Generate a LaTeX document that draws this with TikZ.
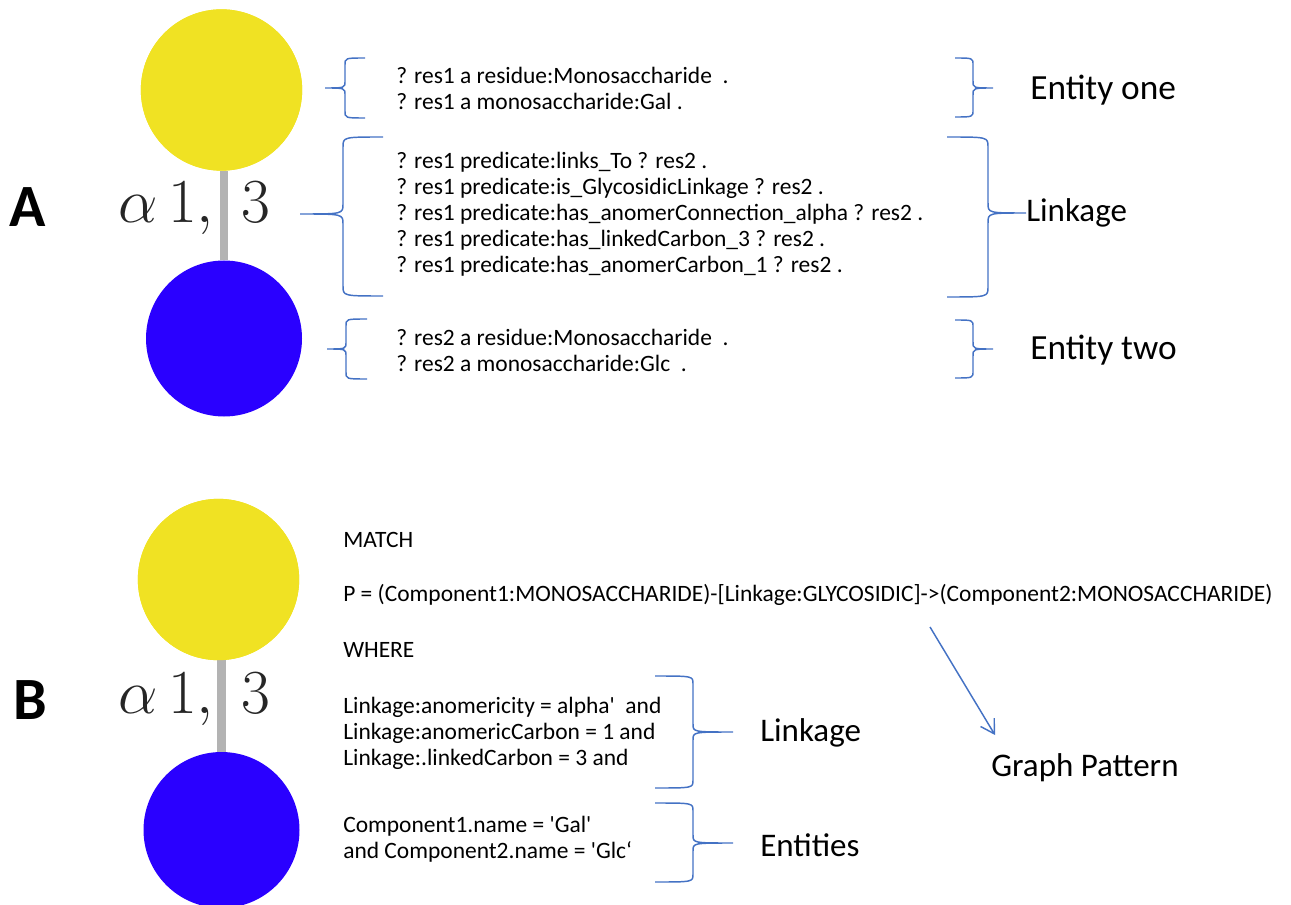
\documentclass[tikz,border=0pt]{standalone}
\usepackage{fix-cm}
\usepackage{fontspec}
\setmainfont{Carlito}
\newfontfamily\calib{Carlito}
\usetikzlibrary{arrows.meta}
\definecolor{galy}{RGB}{240,226,35}
\definecolor{glcb}{RGB}{42,0,255}
\definecolor{bondg}{RGB}{179,179,179}
\definecolor{brc}{RGB}{68,114,196}
\newcommand{\DrawBrace}[7]{%
  \draw[bracestyle] (#1,#4) .. controls (#2,#4) .. (#2,#4+#7) -- (#2,#5-#7)
    .. controls (#2,#5) .. (#3,#5) .. controls (#2,#5) .. (#2,#5+#7)
    -- (#2,#6-#7) .. controls (#2,#6) .. (#1,#6);}
\tikzset{
  bracestyle/.style={draw=brc, line width=1.1pt},
  gal/.style={circle, fill=galy, inner sep=0pt},
  glc/.style={circle, fill=glcb, inner sep=0pt},
  bond/.style={draw=bondg, line width=6.5pt},
  code/.style={font=\calib\fontsize{17.6}{19.5}\selectfont, align=left, anchor=west, inner sep=0pt},
  lbl/.style={font=\calib\fontsize{24.75}{28}\selectfont, anchor=west, inner sep=0pt},
  biglbl/.style={font=\calib\fontsize{26.5}{30}\selectfont, anchor=west, inner sep=0pt},
  panel/.style={font=\calib\bfseries\fontsize{45}{50}\selectfont, inner sep=0pt},
  link/.style={font=\fontsize{47}{50}\selectfont, text=black!85, anchor=base west, inner sep=0pt},
  arr/.style={draw=brc, line width=1.1pt, -{Straight Barb[length=10pt,width=12pt]}}
}
\begin{document}
\begin{tikzpicture}[x=0.75pt,y=-0.75pt]
\useasboundingbox (0,0) rectangle (1291,905);
% ---------- Panel A ----------
\node[gal, minimum size=121pt] (a1) at (221.5,90) {};
\node[glc, minimum size=117pt] (a2) at (224,338.5) {};
\draw[bond] (a2.north |- a1.south) -- (a2.north);
\node[gal, minimum size=121pt] at (221.5,90) {};
\node[panel] (pA) at (28,207) {A};
\node[link] (la) at (118,223) {$\alpha\,1,\hspace{0.28em}3$};
\node[code] (e1) at (396,88) {? res1 a residue:Monosaccharide\ \ .\\? res1 a monosaccharide:Gal .};
\node[code] (lk) at (396,214) {? res1 predicate:links\_To ? res2 .\\? res1 predicate:is\_GlycosidicLinkage ? res2 .\\? res1 predicate:has\_anomerConnection\_alpha ? res2 .\\? res1 predicate:has\_linkedCarbon\_3 ? res2 .\\? res1 predicate:has\_anomerCarbon\_1 ? res2 .};
\node[code] (e2) at (396,350) {? res2 a residue:Monosaccharide\ \ .\\? res2 a monosaccharide:Glc\ \ .};
\node[biglbl] (t1) at (1030,90) {Entity one};
\node[lbl] (t2) at (1026,213) {Linkage};
\node[biglbl] (t3) at (1030,350) {Entity two};
\DrawBrace{365}{345}{325}{58}{88}{118}{7}
\DrawBrace{383}{343}{300}{137}{214}{296}{10}
\DrawBrace{367}{346}{327}{319}{349}{379}{7}
\DrawBrace{955}{973}{993}{58}{88}{117}{7}
\DrawBrace{947}{988}{1026}{137}{213}{297}{10}
\DrawBrace{955}{973}{993}{320}{349}{378}{7}
% ---------- Panel B ----------
\node[gal, minimum size=121pt] (b1) at (218.5,579.5) {};
\node[glc, minimum size=117pt] (b2) at (221.5,830) {};
\draw[bond] (b2.north |- b1.south) -- (b2.north);
\node[gal, minimum size=121pt] at (218.5,579.5) {};
\node[panel] (pB) at (30,700) {B};
\node[link] (lb) at (118,713) {$\alpha\,1,\hspace{0.28em}3$};
\node[code] (m) at (343,540) {MATCH};
\node[code] (p) at (343,595) {P = (Component1:MONOSACCHARIDE)-[Linkage:GLYCOSIDIC]->(Component2:MONOSACCHARIDE)};
\node[code] (w) at (343,650) {WHERE};
\node[code] (wl) at (343,733) {Linkage:anomericity = alpha'\ \ and\\Linkage:anomericCarbon = 1 and\\Linkage:.linkedCarbon = 3 and};
\node[code] (we) at (343,839) {Component1.name = 'Gal'\\and Component2.name = 'Glc‘};
\DrawBrace{655}{693}{733}{676}{732}{788}{8}
\DrawBrace{655}{693}{733}{803}{843}{882}{8}
\node[lbl] (t4) at (760,733) {Linkage};
\node[lbl] (t5) at (760,845) {Entities};
\node[lbl] (gp) at (991,768) {Graph Pattern};
\coordinate (as) at (930,627);
\coordinate (ae) at (995,735);
\draw[arr] (as) -- (ae);
\end{tikzpicture}
\end{document}
